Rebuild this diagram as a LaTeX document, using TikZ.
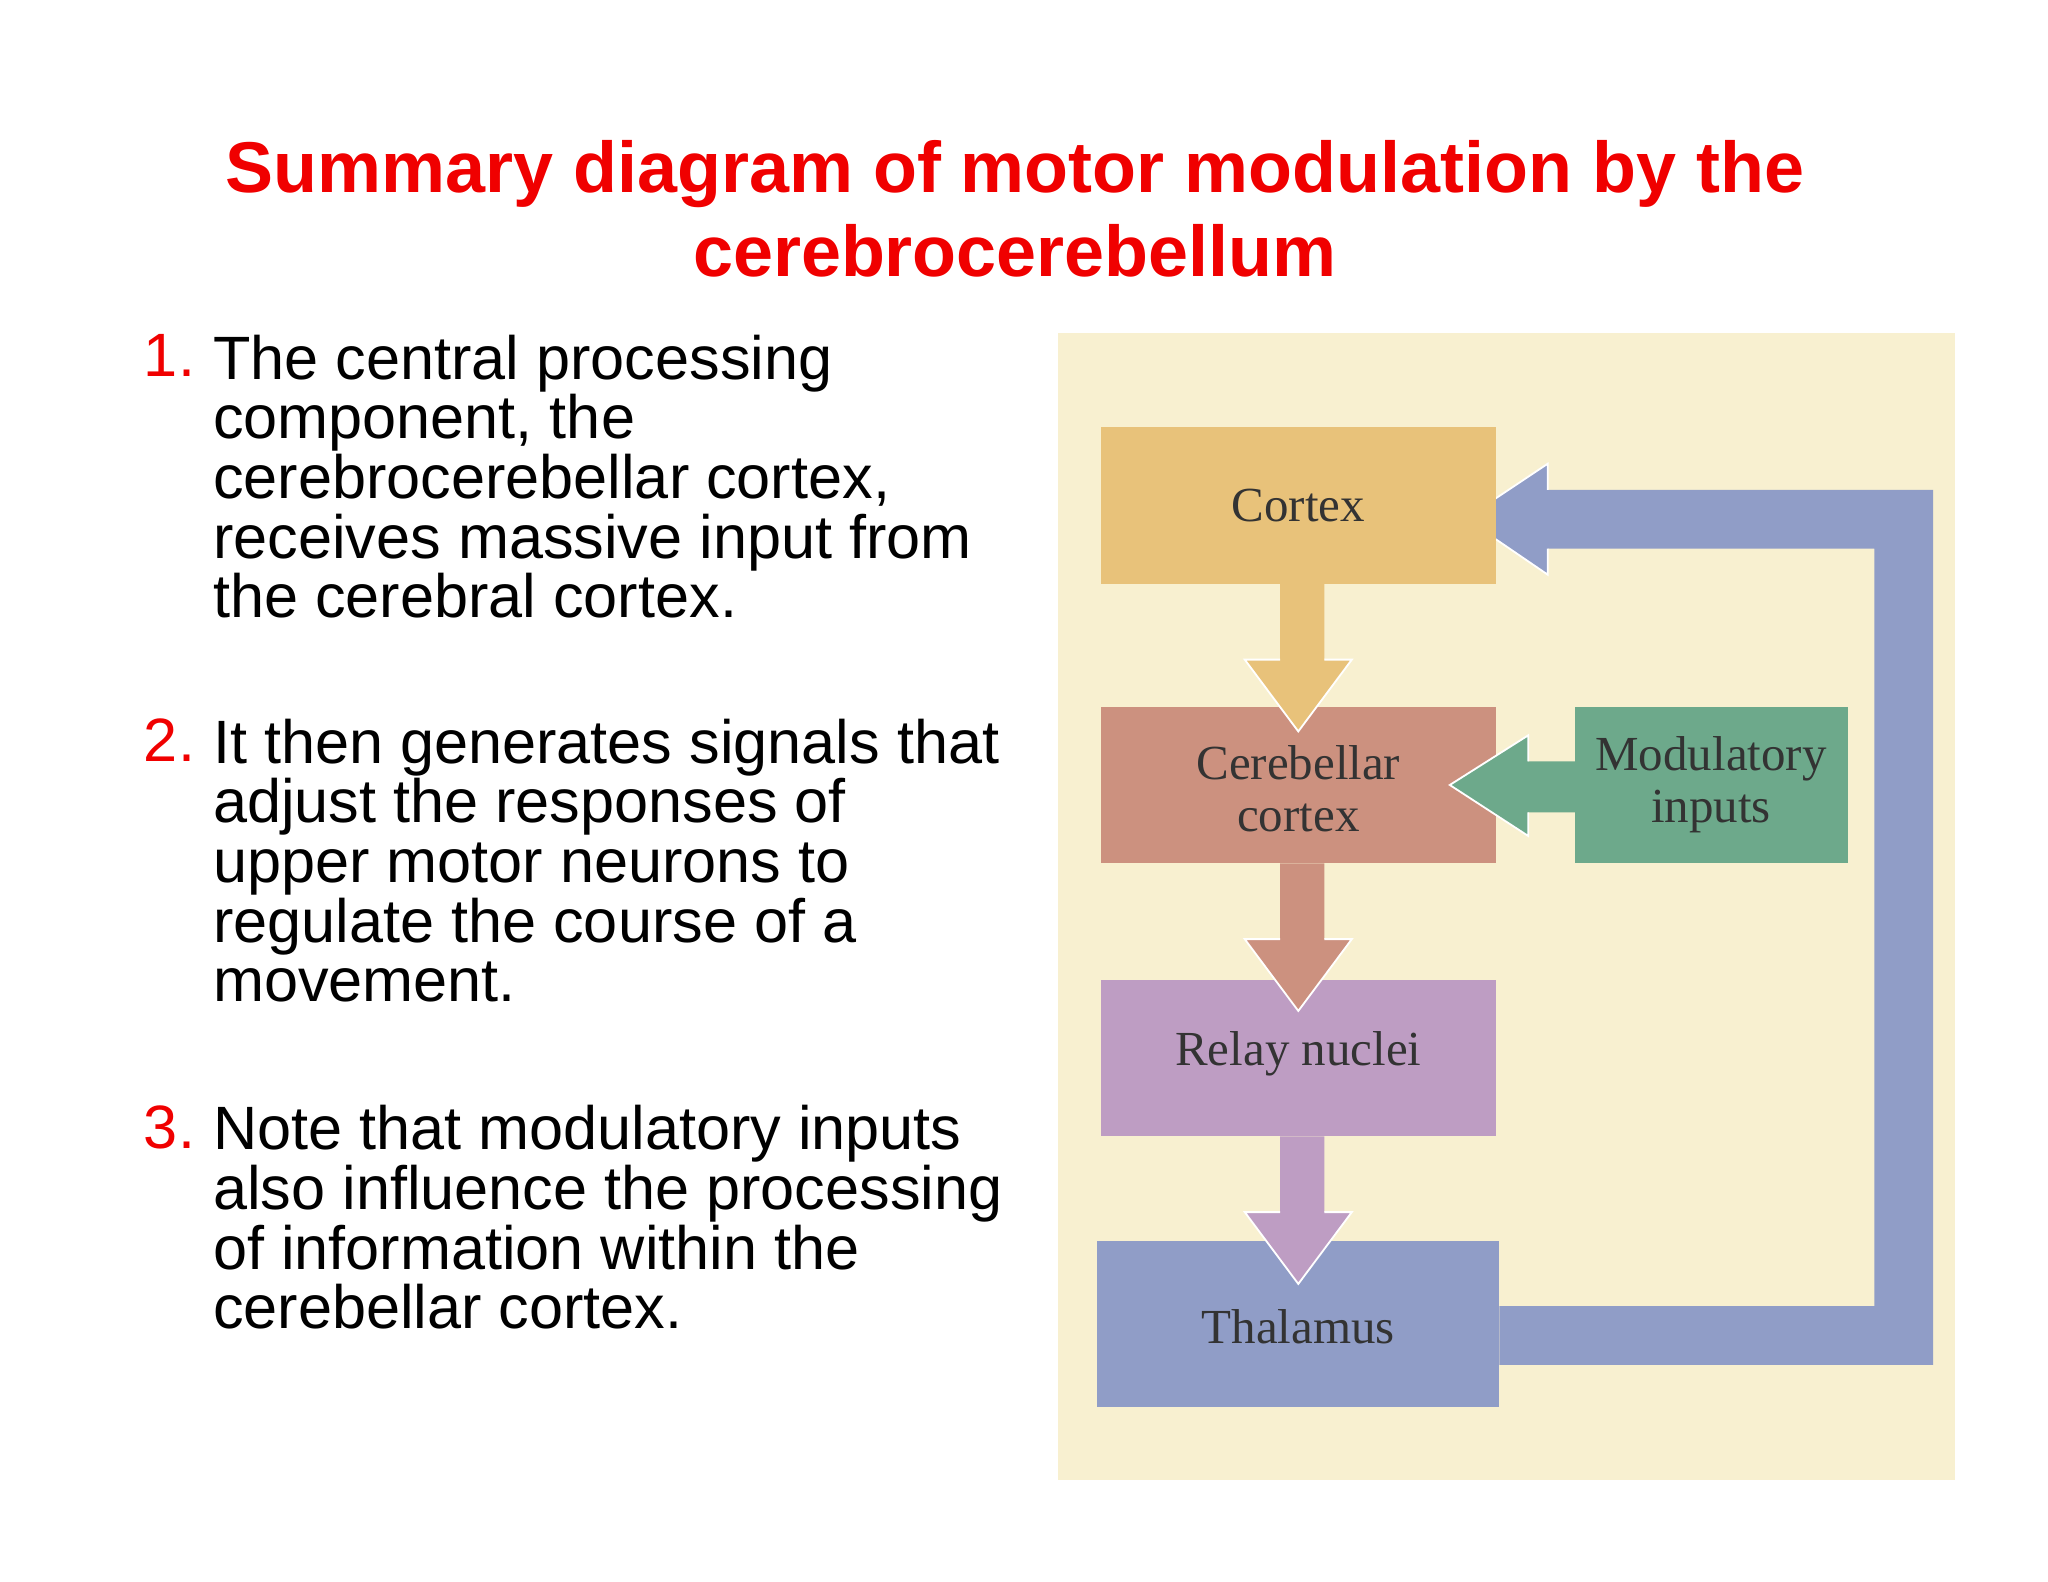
\documentclass[tikz,border=0pt]{standalone}
\usepackage{fontspec}
\setmainfont{Liberation Sans}
\newfontfamily\serifd{Liberation Serif}
\definecolor{ttl}{HTML}{F00000}
\definecolor{panel}{HTML}{F8F0D0}
\definecolor{cort}{HTML}{E8C27A}
\definecolor{cereb}{HTML}{CC917F}
\definecolor{relay}{HTML}{BE9DC3}
\definecolor{thal}{HTML}{909DC7}
\definecolor{modc}{HTML}{6DA98B}
\begin{document}
\begin{tikzpicture}[x=0.3mm,y=-0.3mm,
  box/.style={inner sep=0pt,font=\serifd\fontsize{32}{34}\selectfont,text=black!80,align=center},
  arr/.style={draw=white,line width=1.2pt},
  item/.style={anchor=north west,inner sep=0pt,align=left,font=\fontsize{40}{39}\selectfont},
  num/.style={anchor=north west,inner sep=0pt,text=ttl,font=\fontsize{40}{39}\selectfont}]
\useasboundingbox (0,0) rectangle (1568,1211);
\fill[white] (0,0) rectangle (1568,1211);
\node[font=\bfseries\fontsize{47}{55}\selectfont,text=ttl,align=center] (title) at (777,160) {Summary diagram of motor modulation by the\\cerebrocerebellum};
\node[num] (n1) at (110,256) {1.};
\node[item] (t1) at (163,256) {The central processing\\component, the\\cerebrocerebellar cortex,\\receives massive input from\\the cerebral cortex.};
\node[num] (n2) at (110,550) {2.};
\node[item] (t2) at (163,550) {It then generates signals that\\adjust the responses of\\upper motor neurons to\\regulate the course of a\\movement.};
\node[num] (n3) at (110,846) {3.};
\node[item] (t3) at (163,846) {Note that modulatory inputs\\also influence the processing\\of information within the\\cerebellar cortex.};
\fill[panel] (810,255) rectangle (1497,1133);
% return arrow
\fill[thal] (1148,1000) -- (1435,1000) -- (1435,420) -- (1185,420) -- (1185,440) -- (1122,397) -- (1185,355) -- (1185,375) -- (1480,375) -- (1480,1045) -- (1148,1045) -- cycle;
\draw[arr] (1185,420) -- (1185,440) -- (1122,397) -- (1185,355) -- (1185,375);
% boxes
\fill[cort] (843,327) rectangle (1145,447);
\fill[cereb] (843,541) rectangle (1145,661);
\fill[relay] (843,750) rectangle (1145,870);
\fill[thal] (840,950) rectangle (1148,1077);
\fill[modc] (1206,541) rectangle (1415,661);
\node[box] (cx) at (994,387) {Cortex};
\node[box] (cc) at (994,604) {Cerebellar\\cortex};
\node[box] (rn) at (994,807) {Relay nuclei};
\node[box] (th) at (994,1016) {Thalamus};
\node[box] (mi) at (1310,601) {Modulatory\\inputs};
% down arrows
\foreach \a/\c in {447/cort,661/cereb,870/relay}{
  \fill[\c] (980,\a) -- (1014,\a) -- (1014,\a+58) -- (1035,\a+58) -- (994,\a+113) -- (953,\a+58) -- (980,\a+58) -- cycle;
  \draw[arr] (1014,\a+58) -- (1035,\a+58) -- (994,\a+113) -- (953,\a+58) -- (980,\a+58);
}
% modulatory arrow
\fill[modc] (1206,583) -- (1170,583) -- (1170,563) -- (1110,601) -- (1170,640) -- (1170,622) -- (1206,622) -- cycle;
\draw[arr] (1170,583) -- (1170,563) -- (1110,601) -- (1170,640) -- (1170,622);
\end{tikzpicture}
\end{document}
